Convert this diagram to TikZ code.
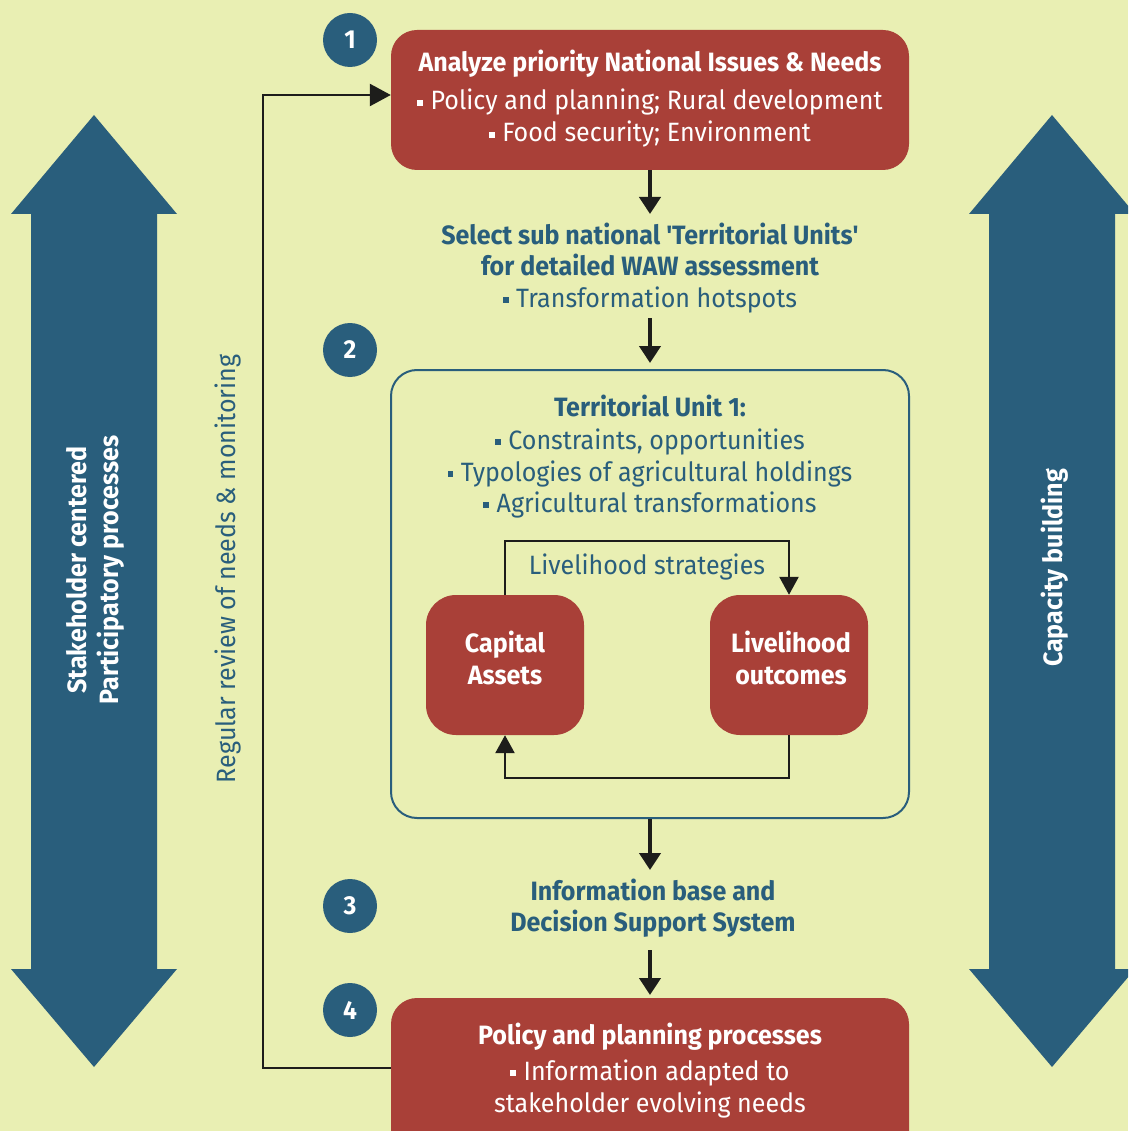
\documentclass[tikz,border=0pt]{standalone}
\usepackage{fontspec}
\setmainfont{Fira Sans}[FakeStretch=0.945]
\newfontfamily\sqfont{Fira Sans}[FakeStretch=0.945,Ligatures=TeXOff]
\usetikzlibrary{arrows.meta}
\definecolor{bg}{HTML}{E9EFB3}
\definecolor{fblue}{HTML}{295E7C}
\definecolor{fred}{HTML}{A94038}
\definecolor{fblack}{HTML}{1D1D1B}
\newcommand\sqb{\rule[0.16em]{0.22em}{0.22em}\hspace{0.28em}}
\newcommand\sq{{\sqfont\bfseries '}}
\begin{document}
\begin{tikzpicture}[x=1pt,y=-1pt,
  redbox/.style={fill=fred, rounded corners=26pt, inner sep=0pt},
  tubox/.style={draw=fblue, line width=2pt, rounded corners=26pt, inner sep=0pt},
  num/.style={circle, fill=fblue, text=white, minimum size=54pt, inner sep=0pt, font=\fontsize{26}{26}\selectfont\bfseries},
  wt/.style={text=white, anchor=base, inner sep=0pt, font=\fontsize{26.5}{26.5}\selectfont},
  wtb/.style={text=white, anchor=base, inner sep=0pt, font=\fontsize{26.5}{26.5}\selectfont\bfseries},
  bt/.style={text=fblue, anchor=base, inner sep=0pt, font=\fontsize{26.5}{26.5}\selectfont},
  btb/.style={text=fblue, anchor=base, inner sep=0pt, font=\fontsize{26.5}{26.5}\selectfont\bfseries},
  flow/.style={draw=fblack, line width=4.5pt, -{Triangle[width=21pt,length=17pt]}},
  lpath/.style={draw=fblack, line width=2.5pt, -{Triangle[width=19pt,length=18pt]}},
  fbk/.style={draw=fblack, line width=2.5pt, -{Triangle[width=22pt,length=21pt]}},
  bigarrow/.style={fill=fblue}
]
\fill[bg] (0,0) rectangle (1128,1131);
\useasboundingbox (0,0) rectangle (1128,1131);
\clip (0,0) rectangle (1128,1131);

% big side arrows
\fill[bigarrow] (94,115) -- (177,214) -- (157,214) -- (157,969) -- (177,969) -- (94,1067)
  -- (11,969) -- (31,969) -- (31,214) -- (11,214) -- cycle;
\fill[bigarrow] (1052,115) -- (1135,214) -- (1115,214) -- (1115,969) -- (1135,969) -- (1052,1067)
  -- (969,969) -- (989,969) -- (989,214) -- (969,214) -- cycle;
\node[text=white, rotate=90, align=center, font=\fontsize{26.5}{32}\selectfont\bfseries] (stake) at (95,570)
  {Stakeholder centered\\Participatory processes};
\node[text=white, rotate=90, font=\fontsize{26.5}{26.5}\selectfont\bfseries] (cap) at (1055,568) {Capacity building};

% boxes
\node[redbox, minimum width=518pt, minimum height=140pt] (top) at (650,100) {};
\node[tubox, minimum width=518pt, minimum height=448pt] (tu) at (650,594) {};
\node[redbox, minimum width=158pt, minimum height=140pt, rounded corners=30pt] (ca) at (505,665) {};
\node[redbox, minimum width=158pt, minimum height=140pt, rounded corners=30pt] (lo) at (789,665) {};
\node[redbox, minimum width=518pt, minimum height=160pt] (bot) at (650,1078) {};

% numbers
\node[num] (n1) at (350,40) {1};
\node[num] (n2) at (350,350) {2};
\node[num] (n3) at (350,906) {3};
\node[num] (n4) at (350,1010) {4};

% texts
\node[wtb] (t1) at (650,72) {Analyze priority National Issues \& Needs};
\node[wt] (t2) at (650,110) {\sqb Policy and planning; Rural development};
\node[wt] (t3) at (650,142) {\sqb Food security; Environment};

\node[btb] (s1) at (650,245) {Select sub national \sq Territorial Units\sq};
\node[btb] (s2) at (650,276) {for detailed WAW assessment};
\node[bt] (s3) at (650,307) {\sqb Transformation hotspots};

\node[btb] (u1) at (650,416) {Territorial Unit 1:};
\node[bt] (u2) at (650,449) {\sqb Constraints, opportunities};
\node[bt] (u3) at (650,481) {\sqb Typologies of agricultural holdings};
\node[bt] (u4) at (650,512) {\sqb Agricultural transformations};
\node[bt] (ls) at (647,574) {Livelihood strategies};

\node[wtb] (ca1) at (505,652) {Capital};
\node[wtb] (ca2) at (505,684) {Assets};
\node[wtb] (lo1) at (791,652) {Livelihood};
\node[wtb] (lo2) at (791,684) {outcomes};

\node[btb] (i1) at (653,900) {Information base and};
\node[btb] (i2) at (653,931) {Decision Support System};

\node[wtb] (b1) at (650,1044) {Policy and planning processes};
\node[wt] (b2) at (650,1080) {\sqb Information adapted to};
\node[wt] (b3) at (650,1112) {stakeholder evolving needs};

\node[text=fblue, rotate=90, font=\fontsize{26.5}{26.5}\selectfont] (rev) at (228,569) {Regular review of needs \& monitoring};

% connectors
\coordinate (a1) at (650,214);
\coordinate (a2s) at (650,318);
\coordinate (a2) at (650,363);
\coordinate (a3) at (650,870);
\coordinate (a4s) at (650,950);
\coordinate (a4) at (650,995);
\draw[flow] (top.south) -- (a1);
\draw[flow] (a2s) -- (a2);
\draw[flow] (tu.south) -- (a3);
\draw[flow] (a4s) -- (a4);

\coordinate (lt) at (647,541);
\coordinate (lb) at (647,778);
\draw[lpath] (ca.north) |- (lt) -| (lo.north);
\draw[lpath] (lo.south) |- (lb) -| (ca.south);

\coordinate (fb) at (263,580);
\draw[fbk] ([yshift=10pt]bot.west) -| (fb) |- ([yshift=5pt]top.west);
\end{tikzpicture}
\end{document}
